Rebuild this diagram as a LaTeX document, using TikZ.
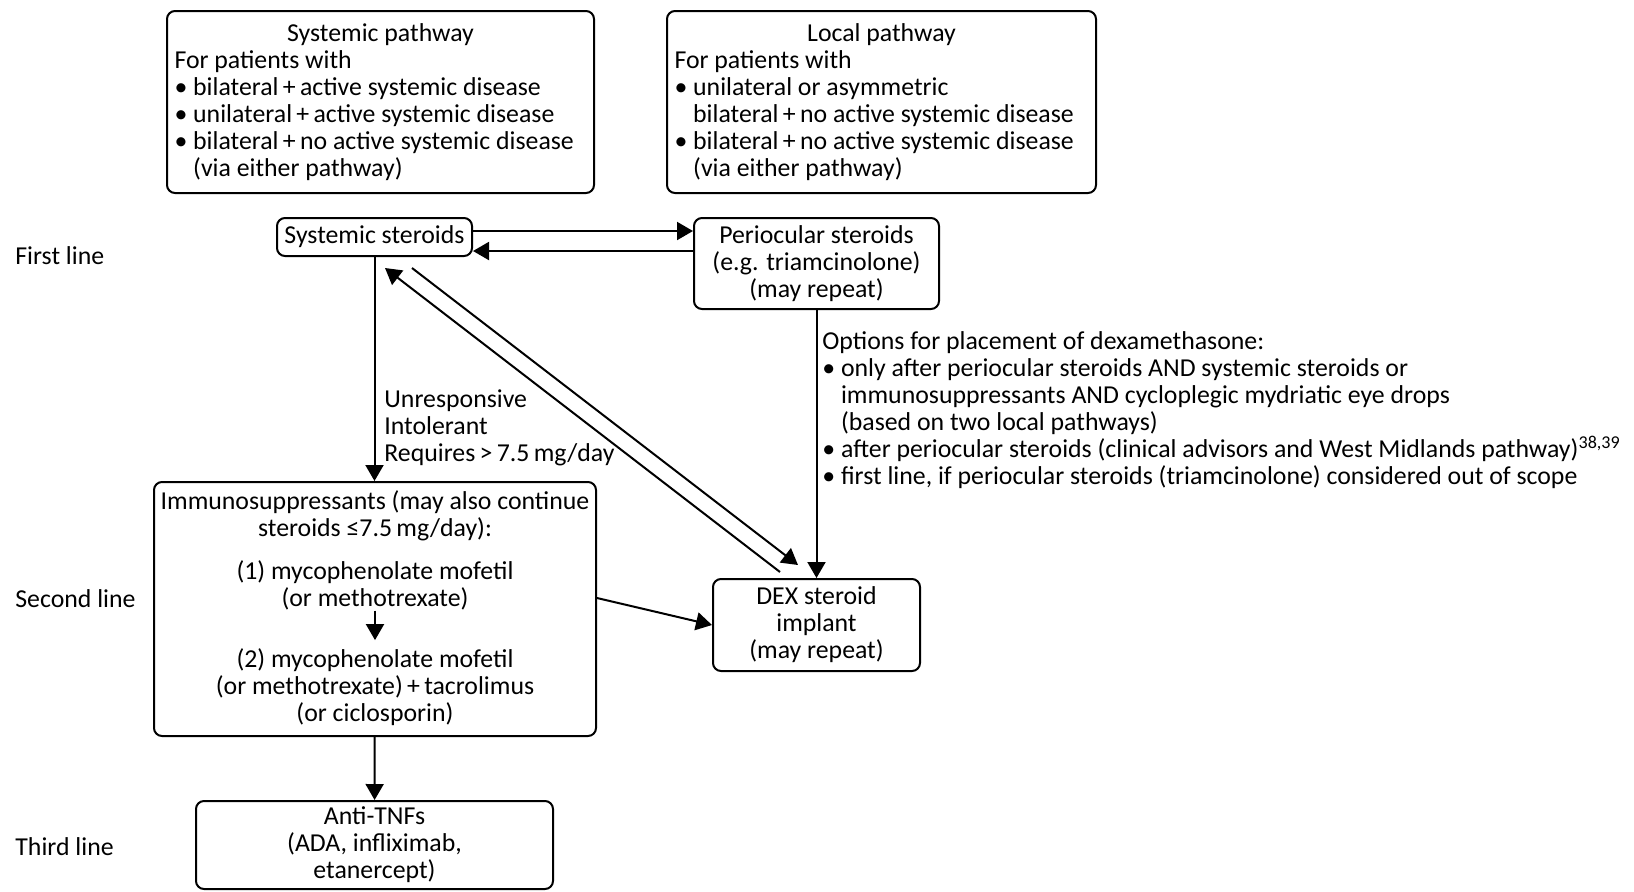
\documentclass[tikz,border=0pt]{standalone}
\usepackage{fontspec}
\setmainfont{Carlito}
\usetikzlibrary{arrows.meta}

\begin{document}
\begin{tikzpicture}[x=0.5pt,y=-0.5pt,
    every node/.style={font=\fontsize{12.9}{13.5}\selectfont,inner sep=0pt},
    box/.style={shape=rectangle,draw=black,line width=1pt,rounded corners=4pt,align=center},
    pathbox/.style={box,minimum height=91pt,align=left,execute at begin node={\spaceskip=0pt\xspaceskip=0pt\relax}},
    arr/.style={-{Triangle[length=8pt,width=9pt]},line width=1pt}]
    \useasboundingbox (0,0) rectangle (1634,891);
    \node[pathbox,minimum width=213.5pt,text width=206pt] (SP) at (380.5,102) {\hfill Systemic pathway\hfill\null\\ For patients with\\ \textbullet\ bilateral\,+\,active systemic disease\\ \textbullet\ unilateral\,+\,active systemic disease\\ \textbullet\ bilateral\,+\,no active systemic disease\\ \phantom{\textbullet\ }(via either pathway)};
    \node[pathbox,minimum width=214.5pt,text width=207pt] (LP) at (881.5,102) {\hfill Local pathway\hfill\null\\ For patients with\\ \textbullet\ unilateral or asymmetric\\ \phantom{\textbullet\ }bilateral\,+\,no active systemic disease\\ \textbullet\ bilateral\,+\,no active systemic disease\\ \phantom{\textbullet\ }(via either pathway)};
    \node[box,minimum width=97.5pt,minimum height=19pt] (SS) at (374.5,237) {Systemic steroids};
    \node[box,minimum width=122.5pt,minimum height=45.5pt] (PS) at (816.5,263.5) {Periocular steroids\\(e.g. triamcinolone)\\(may repeat)};
    \node[box,minimum width=221pt,minimum height=127pt] (IM) at (375,609) {};
    \node[align=center] (IMH) at (375,516) {Immunosuppressants (may also continue\\steroids ≤7.5\,mg/day):};
    \node[align=center] (M1) at (375,585.5) {(1) mycophenolate mofetil\\(or methotrexate)};
    \node[align=center] (M2) at (375,687) {(2) mycophenolate mofetil\\(or methotrexate)\,+\,tacrolimus\\(or ciclosporin)};
    \node[box,minimum width=103.5pt,minimum height=46pt] (DEX) at (816.5,625) {DEX steroid\\implant\\(may repeat)};
    \node[box,minimum width=178.5pt,minimum height=44pt] (TNF) at (374.5,845) {Anti-TNFs\\(ADA, infliximab,\\etanercept)};
    \node[anchor=west] (L1) at (15,256) {First line};
    \node[anchor=west] (L2) at (15,599) {Second line};
    \node[anchor=west] (L3) at (15,847) {Third line};
    \node[anchor=west,align=left] (WHY) at (384,428) {Unresponsive\\Intolerant\\Requires\,>\,7.5\,mg/day};
    \node[anchor=north west,align=left] (OPT) at (822,331) {Options for placement of dexamethasone:\\ \textbullet\ only after periocular steroids AND systemic steroids or\\ \phantom{\textbullet\ }immunosuppressants AND cycloplegic mydriatic eye drops\\ \phantom{\textbullet\ }(based on two local pathways)\\ \textbullet\ after periocular steroids (clinical advisors and West Midlands pathway)\textsuperscript{38,39}\\ \textbullet\ first line, if periocular steroids (triamcinolone) considered out of scope};
    \coordinate (D1a) at (412,268);
    \coordinate (D1b) at (798,565);
    \coordinate (D2a) at (780,572);
    \coordinate (D2b) at (385,268);
    \draw[arr] ([yshift=3pt]SS.east) -- ([yshift=3pt]SS.east -| PS.west);
    \draw[arr] ([yshift=-7pt]SS.east -| PS.west) -- ([yshift=-7pt]SS.east);
    \draw[arr] (SS.south) -- (SS.south |- IM.north);
    \path[arr] (PS) edge (DEX);
    \draw[arr] ([yshift=5.5pt]IM.east) -- (DEX.west);
    \path[arr] (IM) edge (TNF);
    \path[arr,shorten >=4pt] (M1) edge (M2);
    \draw[arr] (D1a) -- (D1b);
    \draw[arr] (D2a) -- (D2b);
\end{tikzpicture}
\end{document}
